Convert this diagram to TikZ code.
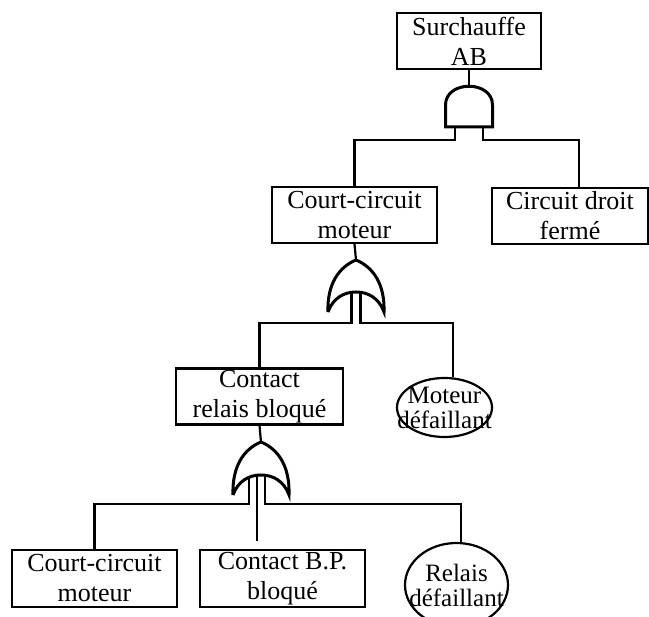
\documentclass[tikz,border=0pt]{standalone}
\usepackage{fontspec}
\setmainfont{Liberation Serif}
\usetikzlibrary{shapes.geometric}

\tikzset{
    evt/.style={draw, line width=2.2pt, inner sep=0pt, minimum height=56pt,
        align=center, font=\fontsize{26}{30}\selectfont},
    basic/.style={draw, ellipse, line width=2.2pt, inner xsep=-20pt, inner ysep=-10pt,
        align=center, font=\fontsize{25}{25}\selectfont},
    gate/.style={line width=3pt},
    wire/.style={line width=2.2pt}
}

\begin{document}
\begin{tikzpicture}[x=1pt, y=-1pt]
    \clip (0,0) rectangle (649,617);
    % events
    \node[evt, minimum width=144pt] (sa) at (469,41) {Surchauffe\\AB};
    \node[evt, minimum width=165pt] (cc1) at (354.5,215) {Court-circuit\\moteur};
    \node[evt, minimum width=156pt] (cd) at (570,216) {Circuit droit\\fermé};
    \node[evt, minimum width=167pt] (cr) at (259.5,396.5) {Contact\\relais bloqué};
    \node[basic, minimum width=95pt, minimum height=59pt] (md) at (444.5,407.5) {Moteur\\défaillant};
    \node[evt, minimum width=165pt, minimum height=57pt] (cc2) at (94.5,578.5) {Court-circuit\\moteur};
    \node[evt, minimum width=165pt, minimum height=57pt] (cbp) at (282.5,578.5) {Contact B.P.\\bloqué};
    \node[basic, minimum width=103pt, minimum height=84pt] (rd) at (456.5,585) {Relais\\défaillant};

    % AND gate
    \draw[gate] (445.5,127) -- (445.5,105) .. controls (445.5,80) and (492.5,80) .. (492.5,105) -- (492.5,127) -- cycle;
    \coordinate (and1) at (469,86);
    \coordinate (and1l) at (455,127);
    \coordinate (and1r) at (483,127);

    % OR gates
    \draw[gate, shift={(356,260)}] (-28,52) .. controls (-29,24) and (-17,7) .. (0,0)
        .. controls (17,7) and (29,24) .. (28,52)
        .. controls (23,38) and (12,32) .. (0,32)
        .. controls (-12,32) and (-23,38) .. (-28,52);
    \coordinate (or1) at (356,260);
    \coordinate (or1l) at (351.5,292);
    \coordinate (or1r) at (360.5,292);

    \draw[gate, shift={(261,442)}] (-28,53) .. controls (-29,24) and (-17,7) .. (0,0)
        .. controls (17,7) and (29,24) .. (28,53)
        .. controls (23,39) and (12,33) .. (0,33)
        .. controls (-12,33) and (-23,39) .. (-28,53);
    \coordinate (or2) at (261,442);
    \coordinate (or2l) at (249,476);
    \coordinate (or2m) at (257,475);
    \coordinate (or2r) at (265,476);

    % connectors
    \draw[wire] (sa.south) -- (and1);
    \draw[wire] (and1l) -- ++(0,13) -| (cc1.north);
    \draw[wire] (and1r) -- ++(0,13) -| ([xshift=9pt]cd.north);
    \draw[wire] (cc1.south) -- (or1);
    \draw[wire] (or1l) -- ++(0,31) -| (cr.north);
    \draw[wire] (or1r) -- ++(0,31) -| ([xshift=8.5pt]md.north);
    \draw[wire] (cr.south) -- (or2);
    \draw[wire] (or2l) -- ++(0,28) -| (cc2.north);
    \draw[wire, shorten >=8pt] (or2m) -- (or2m |- cbp.north);
    \draw[wire] (or2r) -- ++(0,28) -| ([xshift=4.5pt]rd.north);
\end{tikzpicture}
\end{document}
